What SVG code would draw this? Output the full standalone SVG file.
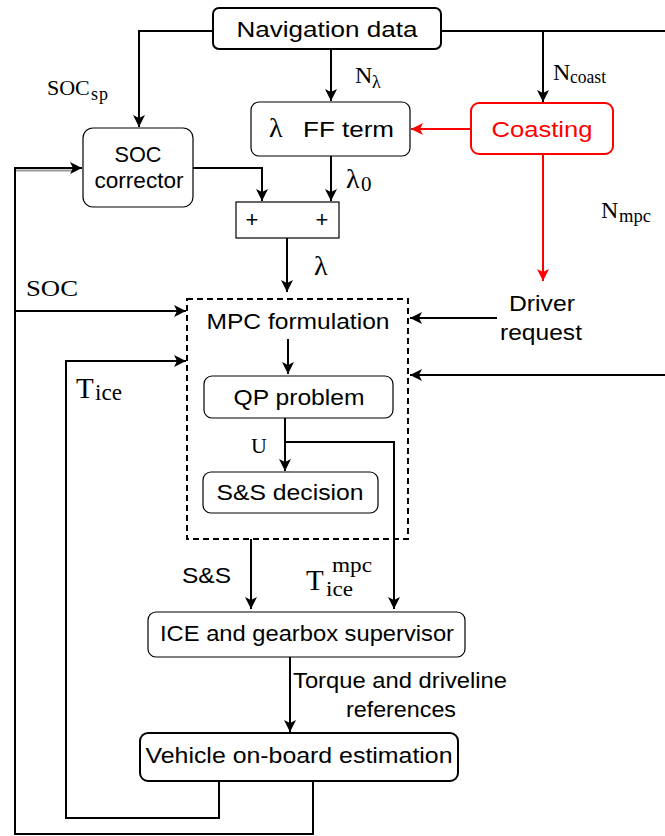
<svg xmlns="http://www.w3.org/2000/svg" width="665" height="836" viewBox="0 0 665 836">
<style>
.box{fill:#fff;stroke:#000;stroke-width:1.2}
.thick{stroke-width:2}
.red{stroke:#f00;stroke-width:2}
.c{fill:none;stroke:#000;stroke-width:2}
.rc{fill:none;stroke:#f00;stroke-width:2}
.s{font-family:"Liberation Sans",Arial,sans-serif;font-size:22px;fill:#000}
.m{font-family:"Liberation Serif","Times New Roman",serif;fill:#000}
.mid{text-anchor:middle}
</style>
<defs>
<marker id="a" markerUnits="userSpaceOnUse" markerWidth="13" markerHeight="12" viewBox="0 0 13 12" refX="12" refY="6" orient="auto">
<path d="M0,0 L12,6 L0,12 L3,6 z" fill="#000"/>
</marker>
<marker id="ar" markerUnits="userSpaceOnUse" markerWidth="13" markerHeight="12" viewBox="0 0 13 12" refX="12" refY="6" orient="auto">
<path d="M0,0 L12,6 L0,12 L3,6 z" fill="#f00"/>
</marker>
</defs>
<rect width="665" height="836" fill="#fff"/>

<g id="connectors">
<path class="c" d="M213,31 H139 V127" marker-end="url(#a)"/>
<path class="c" d="M441,31 H665"/>
<path class="c" d="M543,31 V102" marker-end="url(#a)"/>
<path class="c" d="M331,49 V101" marker-end="url(#a)"/>
<path class="rc" d="M471,129 H411" marker-end="url(#ar)"/>
<path class="rc" d="M543,154 V281" marker-end="url(#ar)"/>
<path class="c" d="M193,168 H262 V201" marker-end="url(#a)"/>
<line x1="16" y1="170.5" x2="76" y2="170.5" stroke="#999" stroke-width="2"/>
<path class="c" d="M313,781 V834 H15 V168 H82" marker-end="url(#a)"/>
<path class="c" d="M331,156 V201" marker-end="url(#a)"/>
<path class="c" d="M287,238 V292" marker-end="url(#a)"/>
<path class="c" d="M15,311 H186" marker-end="url(#a)"/>
<path class="c" d="M497,318 H410" marker-end="url(#a)"/>
<path class="c" d="M288,339 V374" marker-end="url(#a)"/>
<path class="c" d="M665,375 H410" marker-end="url(#a)"/>
<path class="c" d="M219,781 V818 H66 V361 H186" marker-end="url(#a)"/>
<path class="c" d="M285,418 V471" marker-end="url(#a)"/>
<path class="c" d="M285,442 H394 V609" marker-end="url(#a)"/>
<path class="c" d="M251,539 V609" marker-end="url(#a)"/>
<path class="c" d="M290,657 V732" marker-end="url(#a)"/>
</g>

<g id="nav">
<rect class="box thick" x="213" y="8" width="228" height="41" rx="6"/>
<text class="s mid" x="327" y="37" font-size="23" textLength="181" lengthAdjust="spacingAndGlyphs">Navigation data</text>
</g>

<g id="soc-corrector">
<rect class="box" x="83" y="128" width="110" height="79" rx="10"/>
<text class="s mid" x="138" y="162" textLength="47" lengthAdjust="spacingAndGlyphs">SOC</text>
<text class="s mid" x="139" y="188" textLength="89" lengthAdjust="spacingAndGlyphs">corrector</text>
</g>

<g id="ff-term">
<rect class="box" x="251" y="102" width="159" height="54" rx="8"/>
<text class="m" x="269" y="137" font-size="28">λ</text>
<text class="s" x="303" y="137" textLength="91" lengthAdjust="spacingAndGlyphs">FF term</text>
</g>

<g id="coasting">
<rect class="box red" x="471" y="103" width="142" height="51" rx="8"/>
<text class="s mid" x="542" y="137" style="fill:#f00" textLength="101" lengthAdjust="spacingAndGlyphs">Coasting</text>
</g>

<g id="sum">
<rect class="box" x="236" y="202" width="103" height="36"/>
<text class="s mid" x="252" y="227" font-size="20">+</text>
<text class="s mid" x="322" y="227" font-size="20">+</text>
</g>

<g id="mpc">
<rect x="187" y="299" width="221" height="240" fill="none" stroke="#000" stroke-width="2" stroke-dasharray="6,4"/>
<text class="s mid" x="298" y="329" textLength="183" lengthAdjust="spacingAndGlyphs">MPC formulation</text>
</g>

<g id="qp">
<rect class="box" x="204" y="376" width="189" height="42" rx="8"/>
<text class="s mid" x="299" y="405" textLength="131" lengthAdjust="spacingAndGlyphs">QP problem</text>
</g>

<g id="ss-decision">
<rect class="box" x="203" y="472" width="175" height="41" rx="8"/>
<text class="s mid" x="290" y="500" textLength="147" lengthAdjust="spacingAndGlyphs">S&amp;S decision</text>
</g>

<g id="ice">
<rect class="box" x="148" y="612" width="317" height="45" rx="8"/>
<text class="s mid" x="307" y="641" textLength="294" lengthAdjust="spacingAndGlyphs">ICE and gearbox supervisor</text>
</g>

<g id="vehicle">
<rect class="box thick" x="140" y="733" width="318" height="48" rx="8"/>
<text class="s mid" x="299" y="763" textLength="307" lengthAdjust="spacingAndGlyphs">Vehicle on-board estimation</text>
</g>

<g id="driver">
<text class="s mid" x="542" y="311" textLength="66" lengthAdjust="spacingAndGlyphs">Driver</text>
<text class="s mid" x="541" y="340" textLength="82" lengthAdjust="spacingAndGlyphs">request</text>
</g>

<g id="labels">
<text class="m" x="47" y="95" font-size="22">SOC<tspan x="91" y="100" font-size="18" letter-spacing="1">sp</tspan></text>
<text class="m" x="355" y="83" font-size="24">N</text>
<text class="m" x="372" y="88" font-size="18">λ</text>
<text class="m" x="553" y="80" font-size="24">N</text>
<text class="m" x="570" y="83" font-size="18" textLength="36" lengthAdjust="spacingAndGlyphs">coast</text>
<text class="m" x="601" y="218" font-size="24">N</text>
<text class="m" x="619" y="222" font-size="18" textLength="32" lengthAdjust="spacingAndGlyphs">mpc</text>
<text class="m" x="346" y="188" font-size="28">λ</text>
<text class="m" x="361" y="191" font-size="21">0</text>
<text class="m" x="314" y="275" font-size="28">λ</text>
<text class="m" x="26" y="296" font-size="24" textLength="52" lengthAdjust="spacingAndGlyphs">SOC</text>
<text class="m" x="76" y="398" font-size="29">T</text>
<text class="m" x="95" y="400" font-size="23" textLength="27" lengthAdjust="spacingAndGlyphs">ice</text>
<text class="m" x="251" y="453" font-size="22">U</text>
<text class="s" x="182" y="583" textLength="49" lengthAdjust="spacingAndGlyphs">S&amp;S</text>
<text class="m" x="306" y="590" font-size="29">T</text>
<text class="m" x="332" y="572" font-size="22" textLength="40" lengthAdjust="spacingAndGlyphs">mpc</text>
<text class="m" x="326" y="596" font-size="22" textLength="27" lengthAdjust="spacingAndGlyphs">ice</text>
<text class="s" x="293" y="688" textLength="214" lengthAdjust="spacingAndGlyphs">Torque and driveline</text>
<text class="s mid" x="401" y="717" textLength="110" lengthAdjust="spacingAndGlyphs">references</text>
</g>
</svg>
